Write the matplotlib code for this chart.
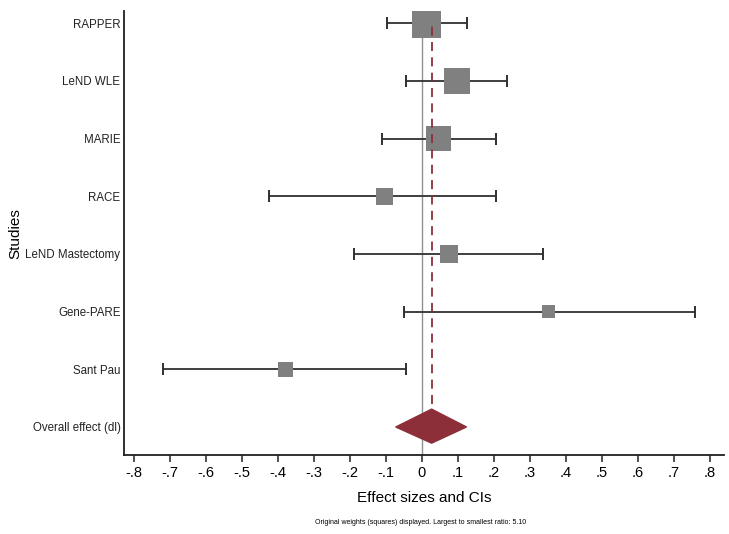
import numpy as np
import matplotlib.pyplot as plt
from matplotlib.patches import Polygon

# study data
studies = ['RAPPER', 'LeND WLE', 'MARIE', 'RACE', 'LeND Mastectomy', 'Gene-PARE', 'Sant Pau']
effect = [0.013, 0.097, 0.047, -0.104, 0.075, 0.353, -0.379]
ci_low = [-0.098, -0.043, -0.110, -0.425, -0.188, -0.051, -0.719]
ci_high = [0.125, 0.236, 0.205, 0.205, 0.338, 0.759, -0.043]
weights = [5.10, 4.05, 3.75, 1.75, 2.05, 1.00, 1.45]

overall_label = 'Overall effect (dl)'
overall_es = 0.027
overall_low = -0.073
overall_high = 0.124

xticks = np.round(np.arange(-0.8, 0.81, 0.1), 1)
xtick_labels = ['-.8', '-.7', '-.6', '-.5', '-.4', '-.3', '-.2', '-.1', '0',
                '.1', '.2', '.3', '.4', '.5', '.6', '.7', '.8']

plt.rcParams['font.family'] = ['Liberation Sans', 'DejaVu Sans']

fig = plt.figure(figsize=(7.29, 5.34), dpi=100)
ax = fig.add_axes([0.170, 0.148, 0.823, 0.831])

n = len(studies)
ypos = np.arange(n + 1, 1, -1)  # 8 .. 2, overall at 1

# zero line
ax.axvline(0, color='#909090', lw=1.0, zorder=1)

# CI lines with caps
ax.hlines(ypos, ci_low, ci_high, color='#303030', lw=1.3, zorder=2)
ax.plot(ci_low, ypos, marker='|', ms=8, mew=1.4, ls='none', color='#303030', zorder=2)
ax.plot(ci_high, ypos, marker='|', ms=8, mew=1.4, ls='none', color='#303030', zorder=2)

# weighted squares
sizes = np.array(weights) * 86
ax.scatter(effect, ypos, s=sizes, marker='s', color='#808080', edgecolors='none', zorder=3)

# overall effect line
ax.plot([overall_es, overall_es], [1.4, ypos[0]], color='#8c2f39', lw=1.3,
        ls=(0, (5, 3.5)), zorder=4)

# diamond
diamond = Polygon([[overall_low, 1], [overall_es, 1.31], [overall_high, 1], [overall_es, 0.72]],
                  closed=True, facecolor='#8c2f39', edgecolor='#8c2f39', zorder=5)
ax.add_patch(diamond)

ax.set_xlim(-0.829, 0.840)
ax.set_ylim(0.515, 8.21)

ax.set_yticks(list(ypos) + [1])
ax.set_yticklabels(studies + [overall_label], fontsize=8.3, color='#222222')
ax.tick_params(axis='y', length=0, pad=2.5)

ax.set_xticks(xticks)
ax.set_xticklabels(xtick_labels, fontsize=10.5)
ax.tick_params(axis='x', length=5, width=1.1, color='#202020', pad=3)

for side in ['top', 'right']:
    ax.spines[side].set_visible(False)
for side in ['left', 'bottom']:
    ax.spines[side].set_linewidth(1.3)
    ax.spines[side].set_color('#202020')

ax.set_xlabel('Effect sizes and CIs', fontsize=11, labelpad=8)
ax.set_ylabel('Studies', fontsize=11)
ax.yaxis.set_label_coords(-0.170, 0.5)

fig.text(0.577, 0.022, 'Original weights (squares) displayed. Largest to smallest ratio: 5.10',
         ha='center', va='center', fontsize=5)

fig.savefig('out.png', dpi=100)
